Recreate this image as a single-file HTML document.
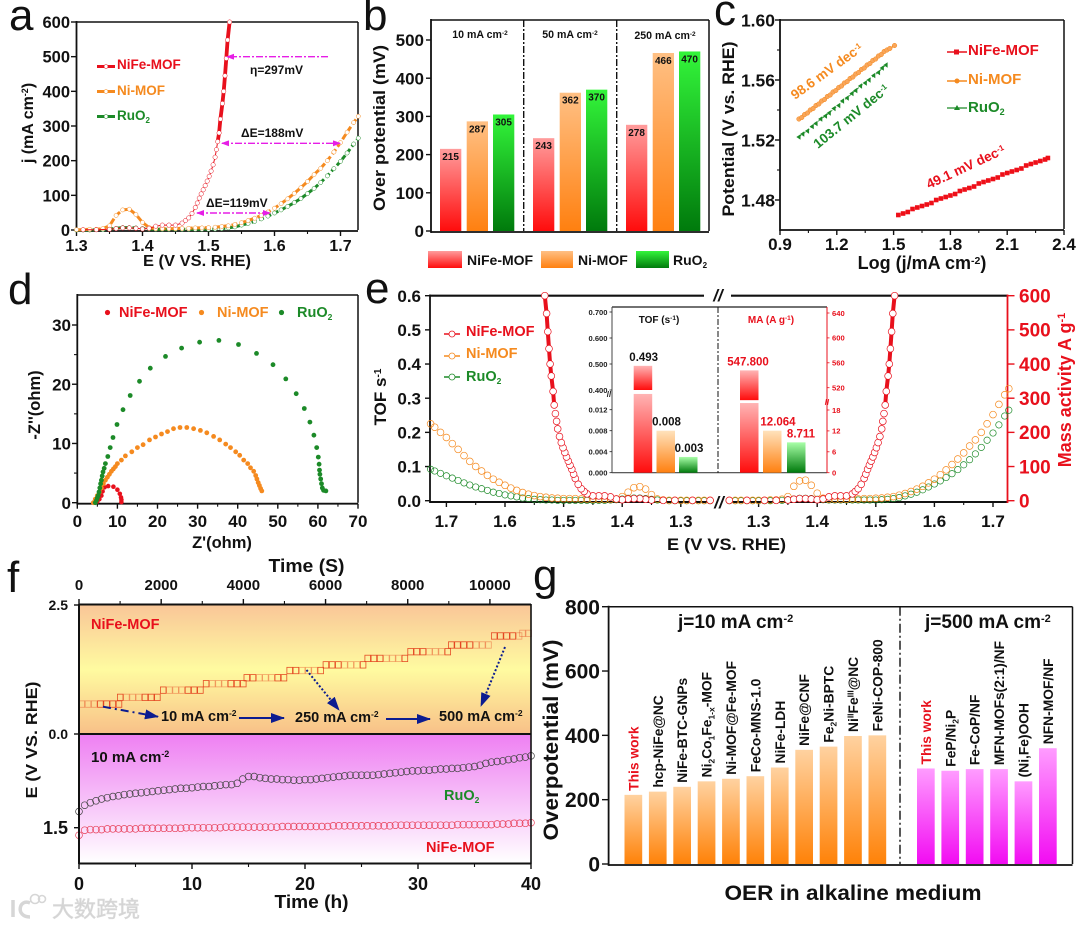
<!DOCTYPE html>
<html lang="en">
<head>
<meta charset="utf-8">
<title>OER electrocatalyst performance of NiFe-MOF</title>
<style>
html,body{margin:0;padding:0;background:#fff;}
svg{display:block;filter:blur(0.35px);}
text{font-family:"Liberation Sans","Noto Sans CJK SC",sans-serif;font-weight:bold;fill:#111;}
.pl{font-weight:normal;font-size:44px;fill:#111;}
.r{fill:#e8101c;}.o{fill:#f58a1f;}.g{fill:#1c8a28;}
</style>
</head>
<body>
<svg id="chart" xmlns="http://www.w3.org/2000/svg" width="1080" height="928" viewBox="0 0 1080 928">
<defs>
<linearGradient id="gRed" x1="0" y1="0" x2="0" y2="1"><stop offset="0" stop-color="#ff9c9c"/><stop offset="1" stop-color="#ff0c0c"/></linearGradient>
<linearGradient id="gOrange" x1="0" y1="0" x2="0" y2="1"><stop offset="0" stop-color="#ffc084"/><stop offset="1" stop-color="#ff8010"/></linearGradient>
<linearGradient id="gGreen" x1="0" y1="0" x2="0" y2="1"><stop offset="0" stop-color="#33f53a"/><stop offset="1" stop-color="#007a0c"/></linearGradient>
<linearGradient id="gInRed" x1="0" y1="0" x2="0" y2="1"><stop offset="0" stop-color="#ffb4b4"/><stop offset="1" stop-color="#ff0c0c"/></linearGradient>
<linearGradient id="gInOrange" x1="0" y1="0" x2="0" y2="1"><stop offset="0" stop-color="#ffe2bc"/><stop offset="1" stop-color="#ff8010"/></linearGradient>
<linearGradient id="gInGreen" x1="0" y1="0" x2="0" y2="1"><stop offset="0" stop-color="#a8ffa8"/><stop offset="1" stop-color="#007a0c"/></linearGradient>
<linearGradient id="gPeach" x1="0" y1="0" x2="0" y2="1"><stop offset="0" stop-color="#ffd2a0"/><stop offset="1" stop-color="#ff8208"/></linearGradient>
<linearGradient id="gPink" x1="0" y1="0" x2="0" y2="1"><stop offset="0" stop-color="#ff9cff"/><stop offset="1" stop-color="#f20cf2"/></linearGradient>
<linearGradient id="gFTop" x1="0" y1="0" x2="0" y2="1"><stop offset="0" stop-color="#f9c698"/><stop offset="0.5" stop-color="#fffba0"/><stop offset="1" stop-color="#f8c088"/></linearGradient>
<linearGradient id="gFBot" x1="0" y1="0" x2="0" y2="1"><stop offset="0" stop-color="#ee7ff2"/><stop offset="1" stop-color="#ffffff"/></linearGradient>
<marker id="mArrowEnd" markerWidth="8" markerHeight="6" refX="7" refY="3" orient="auto" markerUnits="userSpaceOnUse"><path d="M0,0L8,3L0,6Z" fill="#e61ee6"/></marker>
<marker id="mArrowStart" markerWidth="8" markerHeight="6" refX="1" refY="3" orient="auto" markerUnits="userSpaceOnUse"><path d="M8,0L0,3L8,6Z" fill="#e61ee6"/></marker>
<marker id="mNavy" markerWidth="14" markerHeight="10" refX="13" refY="5" orient="auto" markerUnits="userSpaceOnUse"><path d="M0,0L14,5L0,10Z" fill="#0c1c90"/></marker>
</defs>
<rect width="1080" height="928" fill="#fff"/>

<g id="pa"></g>
<g id="pb"></g>
<g id="pc"></g>
<g id="pd"></g>
<g id="pe"></g>
<g id="pf"></g>
<g id="pg"></g>

<g>
<text class="pl" x="9" y="30">a</text>
<text class="pl" x="363" y="30">b</text>
<text class="pl" x="714" y="25">c</text>
<text class="pl" x="8" y="304">d</text>
<text class="pl" x="365" y="303">e</text>
<text class="pl" x="7" y="592">f</text>
<text class="pl" x="533" y="590">g</text>
</g>

<!-- panel a static text -->
<g>
<text x="197" y="266" text-anchor="middle" font-size="15.5" textLength="108" lengthAdjust="spacingAndGlyphs">E (V VS. RHE)</text>
<text transform="translate(33,123) rotate(-90)" text-anchor="middle" font-size="16">j (mA cm<tspan dy="-5" font-size="9">-2</tspan><tspan dy="5">)</tspan></text>
<text class="r" x="117" y="69" font-size="13.5">NiFe-MOF</text>
<text class="o" x="117" y="95" font-size="13.5">Ni-MOF</text>
<text class="g" x="117" y="120" font-size="13.5">RuO<tspan dy="3" font-size="8">2</tspan></text>
<text x="250" y="74" font-size="12">η=297mV</text>
<text x="241" y="137" font-size="12">ΔE=188mV</text>
<text x="206" y="207" font-size="12">ΔE=119mV</text>
</g>

<!-- panel b static text -->
<g>
<text transform="translate(385,128) rotate(-90)" text-anchor="middle" font-size="17" textLength="166" lengthAdjust="spacingAndGlyphs">Over potential (mV)</text>
<text x="480" y="38" text-anchor="middle" font-size="10.6">10 mA cm<tspan dy="-3" font-size="6.5">-2</tspan></text>
<text x="570" y="38" text-anchor="middle" font-size="10.6">50 mA cm<tspan dy="-3" font-size="6.5">-2</tspan></text>
<text x="665" y="39" text-anchor="middle" font-size="10.6">250 mA cm<tspan dy="-3" font-size="6.5">-2</tspan></text>
<rect x="428" y="251" width="34" height="17" fill="url(#gRed)"/>
<rect x="541" y="251" width="32" height="17" fill="url(#gOrange)"/>
<rect x="636" y="251" width="33" height="17" fill="url(#gGreen)"/>
<text x="467" y="265" font-size="14" fill="#222">NiFe-MOF</text>
<text x="578" y="265" font-size="14">Ni-MOF</text>
<text x="673" y="265" font-size="14">RuO<tspan dy="3" font-size="8">2</tspan></text>
</g>

<!-- panel c static text -->
<g>
<text transform="translate(734,129) rotate(-90)" text-anchor="middle" font-size="17" textLength="175" lengthAdjust="spacingAndGlyphs">Potential (V vs. RHE)</text>
<text x="922" y="269" text-anchor="middle" font-size="18">Log (j/mA cm<tspan dy="-5" font-size="10.5">-2</tspan><tspan dy="5">)</tspan></text>
<text class="r" x="968" y="55" font-size="15">NiFe-MOF</text>
<text class="o" x="968" y="84" font-size="15">Ni-MOF</text>
<text class="g" x="968" y="112" font-size="15">RuO<tspan dy="3" font-size="9">2</tspan></text>
<text class="o" transform="translate(795,100) rotate(-36)" font-size="13.5">98.6 mV dec<tspan dy="-4" font-size="8">-1</tspan></text>
<text class="g" transform="translate(818,149) rotate(-39)" font-size="13.5">103.7 mV dec<tspan dy="-4" font-size="8">-1</tspan></text>
<text class="r" transform="translate(929,189) rotate(-25)" font-size="13.5">49.1 mV dec<tspan dy="-4" font-size="8">-1</tspan></text>
</g>

<!-- panel d static text -->
<g>
<text x="222" y="548" text-anchor="middle" font-size="16.5">Z'(ohm)</text>
<text transform="translate(40,405) rotate(-90)" text-anchor="middle" font-size="16.5">-Z''(ohm)</text>
<text class="r" x="119" y="317" font-size="14.5">NiFe-MOF</text>
<text class="o" x="217" y="317" font-size="14.5">Ni-MOF</text>
<text class="g" x="297" y="317" font-size="14.5">RuO<tspan dy="3" font-size="8.5">2</tspan></text>
<circle cx="107.5" cy="312.5" r="2.6" fill="#e8101c"/>
<circle cx="201.5" cy="312.5" r="2.6" fill="#f58a1f"/>
<circle cx="281.5" cy="312.5" r="2.6" fill="#1c8a28"/>
</g>

<!-- panel f static text -->
<g>
<text x="306.5" y="572" text-anchor="middle" font-size="18" textLength="76" lengthAdjust="spacingAndGlyphs">Time (S)</text>
<text x="311.5" y="908" text-anchor="middle" font-size="18" textLength="74" lengthAdjust="spacingAndGlyphs">Time (h)</text>
<text transform="translate(37,740) rotate(-90)" text-anchor="middle" font-size="15.5" textLength="117" lengthAdjust="spacingAndGlyphs">E (V VS. RHE)</text>
</g>

<!-- panel g static text -->
<g>
<text transform="translate(558,740) rotate(-90)" text-anchor="middle" font-size="21" textLength="201" lengthAdjust="spacingAndGlyphs">Overpotential (mV)</text>
<text x="678" y="628" font-size="19">j=10 mA cm<tspan dy="-6" font-size="11">-2</tspan></text>
<text x="925" y="628" font-size="19">j=500 mA cm<tspan dy="-6" font-size="11">-2</tspan></text>
<text x="853" y="900" text-anchor="middle" font-size="21" textLength="257" lengthAdjust="spacingAndGlyphs">OER in alkaline medium</text>
</g>

<!-- watermark -->
<g opacity="0.95">
<path d="M13,900 L13,917 M30,903 C19,898 15,917 30,917" fill="none" stroke="#d4d4d4" stroke-width="3.5"/>
<circle cx="35" cy="899" r="4.5" fill="none" stroke="#d4d4d4" stroke-width="1.6"/>
<circle cx="42" cy="899" r="3.5" fill="none" stroke="#d4d4d4" stroke-width="1.6"/>
<text x="52" y="917" font-size="22" style="fill:#d2d2d2;font-weight:normal;stroke:#d8d8d8;stroke-width:.6">大数跨境</text>
</g>

<!-- panel e static text (above the plotted curves) -->
<g id="peLabels">
<text transform="translate(386,397) rotate(-90)" text-anchor="middle" font-size="17">TOF s<tspan dy="-5" font-size="10">-1</tspan></text>
<text class="r" transform="translate(1071,390) rotate(-90)" text-anchor="middle" font-size="18">Mass activity A g<tspan dy="-6" font-size="11">-1</tspan></text>
<text x="726.5" y="550" text-anchor="middle" font-size="17" textLength="119" lengthAdjust="spacingAndGlyphs">E (V VS. RHE)</text>
<text class="r" x="466" y="336" font-size="14.5">NiFe-MOF</text>
<text class="o" x="466" y="358" font-size="14.5">Ni-MOF</text>
<text class="g" x="466" y="381" font-size="14.5">RuO<tspan dy="3" font-size="8.5">2</tspan></text>
<text x="718" y="301" text-anchor="middle" font-size="17" font-style="italic">//</text>
<text x="719" y="508" text-anchor="middle" font-size="17" font-style="italic">//</text>
<text x="659" y="323" text-anchor="middle" font-size="10">TOF (s<tspan dy="-3" font-size="6.5">-1</tspan><tspan dy="3">)</tspan></text>
<text class="r" x="771" y="323" text-anchor="middle" font-size="10">MA (A g<tspan dy="-3" font-size="6.5">-1</tspan><tspan dy="3">)</tspan></text>
</g>
</svg>

<script>
// ---------- panel a data (shared LSV curves, also used by panel e right side) ----------
const lsvNiFeE=[1.25,1.28,1.31,1.33,1.35,1.36,1.37,1.38,1.39,1.40,1.41,1.42,1.43,1.44,1.45,1.46,1.465,1.47,1.475,1.48,1.483,1.486,1.489,1.492,1.495,1.498,1.501,1.504,1.507,1.51,1.512,1.514,1.516,1.518,1.521,1.523,1.525,1.527,1.529,1.532];
const lsvNiFeJ=[1,1,1,1,2,4,6,6,5,3,5,11,14,14,14,20,27,35,48,65,78,92,104,116,128,141,155,170,188,210,232,255,280,320,365,400,445,495,548,600];
const lsvE=[1.25,1.26,1.27,1.28,1.29,1.30,1.31,1.32,1.33,1.34,1.35,1.36,1.37,1.38,1.39,1.40,1.41,1.42,1.43,1.44,1.45,1.46,1.47,1.48,1.49,1.50,1.51,1.52,1.53,1.54,1.55,1.56,1.57,1.58,1.59,1.60,1.61,1.62,1.63,1.64,1.65,1.66,1.67,1.68,1.69,1.70,1.71,1.72,1.727];
const lsvNiJ=[1,1,1,1,1,1,1,2,2,4,12,42,58,60,45,22,7,4,4,4,4,5,5,6,6,7,8,10,12,16,21,27,34,42,52,63,76,90,106,122,140,160,178,200,225,252,282,310,328];
const lsvRuJ=[0,0,0,0,0,0,0,0,1,1,3,5,7,7,6,4,3,2,2,2,2,2,2,2,2,2,3,4,6,9,14,19,25,32,40,49,58,68,79,91,105,120,137,156,177,198,222,248,265];
const aXTicks=[1.3,1.4,1.5,1.6,1.7];
const aXMinor=[1.35,1.45,1.55,1.65];
const aYTicks=[0,100,200,300,400,500,600];

// ---------- panel b data ----------
const bGroups=["10 mA cm-2","50 mA cm-2","250 mA cm-2"];
const bNiFe=[215,243,278];
const bNi=[287,362,466];
const bRu=[305,370,470];
const bYTicks=[0,100,200,300,400,500];

// ---------- panel c data ----------
const cNiFeX=[1.525,1.55,1.575,1.60,1.625,1.65,1.675,1.70,1.725,1.75,1.775,1.80,1.825,1.85,1.875,1.90,1.925,1.95,1.975,2.00,2.025,2.05,2.075,2.10,2.125,2.15,2.175,2.20,2.225,2.25,2.275,2.30,2.315];
const cNiFeY=[1.470,1.471,1.472,1.474,1.475,1.476,1.477,1.478,1.480,1.481,1.482,1.483,1.484,1.486,1.487,1.488,1.489,1.491,1.492,1.493,1.494,1.495,1.497,1.498,1.499,1.500,1.501,1.503,1.504,1.505,1.506,1.507,1.508];
const cNiX=[1.00,1.015,1.03,1.045,1.06,1.075,1.09,1.105,1.12,1.135,1.15,1.165,1.18,1.195,1.21,1.225,1.24,1.255,1.27,1.285,1.30,1.315,1.33,1.345,1.36,1.375,1.39,1.405,1.42,1.435,1.45,1.465,1.48,1.505];
const cNiY=[1.534,1.535,1.537,1.538,1.540,1.541,1.543,1.544,1.546,1.547,1.549,1.550,1.552,1.553,1.555,1.556,1.558,1.559,1.561,1.562,1.564,1.565,1.567,1.568,1.570,1.571,1.573,1.574,1.576,1.577,1.579,1.580,1.581,1.583];
const cRuX=[1.00,1.02,1.045,1.07,1.09,1.115,1.14,1.16,1.185,1.21,1.23,1.255,1.28,1.30,1.325,1.35,1.37,1.395,1.42,1.44,1.46];
const cRuY=[1.522,1.524,1.526,1.529,1.531,1.534,1.536,1.538,1.541,1.543,1.546,1.548,1.551,1.553,1.556,1.558,1.560,1.563,1.565,1.568,1.570];
const cXTicks=[0.9,1.2,1.5,1.8,2.1,2.4];
const cXMinor=[1.05,1.35,1.65,1.95,2.25];
const cYTicks=[1.48,1.52,1.56,1.60];
const cYMinor=[1.50,1.54,1.58];

// ---------- panel d data ----------
const dRuX=[4.5,4.8,5,5.2,5.4,5.6,5.8,6,6.2,6.4,6.7,7,7.6,8.2,8.9,9.9,11.4,13.2,15.5,18.2,22,26,30.5,35.3,40.2,44.7,48.8,52,54.6,56.6,58,59,59.7,60.1,60.3,60.4,60.5,60.7,60.9,61.1,61.4,62];
const dRuY=[0,0.4,0.8,1.2,1.8,2.5,3.2,3.8,4.5,5.2,5.8,6.6,7.8,9.3,11,13.2,15.7,18.1,20.5,22.7,24.7,26.1,27.1,27.4,26.7,25.2,23.3,20.9,18.4,15.9,13.6,11.4,9.3,7.7,6.5,5.5,4.8,4,3.2,2.5,2.1,2];
const dNiX=[4,4.5,5,5.5,6,6.5,7,7.5,8,8.5,9,9.5,10,11,12,13.6,15,16.4,18,19.5,21,22.5,24,25.6,27.3,29,30.7,32.3,34,35.5,37,38.2,39.5,40.5,41.5,42.5,43.2,44,44.5,44.8,45.1,45.4,45.7,46];
const dNiY=[0,0.6,1.2,1.8,2.5,3.2,3.8,4.3,4.8,5.3,5.7,6.1,6.6,7.2,7.9,8.6,9.3,9.8,10.6,11.1,11.6,12,12.5,12.7,12.7,12.5,12.2,11.8,11.2,10.6,9.9,9.3,8.6,8,7.2,6.6,5.9,5.3,4.6,4,3.4,2.9,2.4,2];
const dNiFeX=[5,5.5,6,6.3,6.8,7.7,9,10,10.6,10.9,11,11];
const dNiFeY=[0.2,0.6,1.2,1.9,2.6,2.8,2.7,2.2,1.5,0.9,0.5,0.1];
const dXTicks=[0,10,20,30,40,50,60,70];
const dYTicks=[0,10,20,30];

// ---------- panel e data ----------
const tofNiJ=[0.001,0.001,0.001,0.001,0.001,0.001,0.001,0.001,0.002,0.005,0.018,0.034,0.041,0.038,0.025,0.012,0.005,0.004,0.004,0.004,0.004,0.005,0.005,0.006,0.006,0.006,0.007,0.008,0.010,0.012,0.015,0.019,0.024,0.030,0.037,0.045,0.054,0.063,0.074,0.087,0.100,0.115,0.132,0.150,0.167,0.185,0.200,0.215,0.225];
const tofRuJ=[0,0,0,0,0,0,0,0,0.001,0.002,0.004,0.006,0.008,0.008,0.007,0.005,0.003,0.002,0.001,0.001,0.001,0.001,0.001,0.001,0.001,0.001,0.001,0.002,0.002,0.003,0.004,0.006,0.008,0.011,0.014,0.017,0.021,0.025,0.030,0.035,0.040,0.046,0.052,0.059,0.066,0.073,0.080,0.087,0.092];
const tofNiFeJ=[0.001,0.001,0.001,0.001,0.002,0.004,0.006,0.006,0.005,0.003,0.005,0.011,0.014,0.014,0.014,0.020,0.027,0.035,0.048,0.065,0.078,0.092,0.104,0.116,0.128,0.141,0.155,0.170,0.188,0.210,0.232,0.255,0.280,0.320,0.365,0.400,0.445,0.495,0.548,0.600];
const eXTicks=[1.3,1.4,1.5,1.6,1.7];
const eXMinor=[1.35,1.45,1.55,1.65];
const eLeftYTicks=[0,0.1,0.2,0.3,0.4,0.5,0.6];
const eRightYTicks=[0,100,200,300,400,500,600];
const insetTof=[0.493,0.008,0.003];
const insetMa=[547.8,12.064,8.711];
const insetTofLabels=["0.493","0.008","0.003"];
const insetMaLabels=["547.800","12.064","8.711"];
const insetTofLowTicks=[0,0.004,0.008,0.012];
const insetTofHighTicks=[0.4,0.5,0.6,0.7];
const insetMaLowTicks=[0,6,12,18];
const insetMaHighTicks=[520,560,600,640];

// ---------- panel f data ----------
const fStepStarts=[0,3.4,7.2,11,14.6,18.4,21.6,25.3,29.1,32.7,36.5,39];
const fStepLevels=[0.58,0.71,0.85,0.975,1.09,1.23,1.34,1.465,1.595,1.725,1.9,1.95];
const fTimes=[0,0.5,1,1.5,2,2.5,3,3.5,4,4.5,
5,5.5,6,6.5,7,7.5,8,8.5,9,9.5,
10,10.5,11,11.5,12,12.5,13,13.5,14,14.5,
15,15.5,16,16.5,17,17.5,18,18.5,19,19.5,
20,20.5,21,21.5,22,22.5,23,23.5,24,24.5,
25,25.5,26,26.5,27,27.5,28,28.5,29,29.5,
30,30.5,31,31.5,32,32.5,33,33.5,34,34.5,
35,35.5,36,36.5,37,37.5,38,38.5,39,39.5,
40];
const fRu=[1.24,1.14,1.10,1.07,1.04,1.02,1.00,.99,.97,.96,
.95,.94,.93,.92,.91,.90,.89,.88,.87,.87,
.86,.85,.84,.84,.83,.82,.81,.81,.79,.72,
.68,.68,.70,.71,.72,.72,.73,.73,.74,.74,
.73,.73,.72,.71,.70,.69,.68,.67,.66,.66,
.66,.66,.66,.65,.64,.63,.62,.61,.60,.59,
.59,.58,.58,.57,.56,.56,.55,.55,.54,.53,
.52,.50,.47,.45,.44,.43,.41,.40,.38,.37,
.35];
const fNiFe=[1.62,1.54,1.53,1.53,1.53,1.52,1.52,1.52,1.52,1.52,
1.52,1.51,1.51,1.51,1.51,1.51,1.51,1.51,1.51,1.50,
1.50,1.50,1.50,1.50,1.50,1.50,1.49,1.49,1.49,1.49,
1.49,1.49,1.49,1.49,1.49,1.49,1.48,1.48,1.48,1.48,
1.48,1.48,1.48,1.48,1.48,1.47,1.47,1.47,1.47,1.47,
1.47,1.47,1.47,1.47,1.47,1.47,1.46,1.46,1.46,1.46,
1.46,1.46,1.46,1.46,1.46,1.46,1.46,1.45,1.45,1.45,
1.45,1.45,1.45,1.45,1.44,1.44,1.44,1.43,1.43,1.43,
1.42];
const fTopTicks=[0,2000,4000,6000,8000,10000];
const fTopMinor=[1000,3000,5000,7000,9000];
const fBottomTicks=[0,10,20,30,40];
const fBottomMinor=[5,15,25,35];

// ---------- panel g data ----------
const gLabelsA=["This work","hcp-NiFe@NC","NiFe-BTC-GNPs","Ni_{2}Co_{1}Fe_{1-x}-MOF","Ni-MOF@Fe-MOF","FeCo-MNS-1.0","NiFe-LDH","NiFe@CNF","Fe_{2}Ni-BPTC","Ni^{II}Fe^{III}@NC","FeNi-COP-800"];
const gValuesA=[215,225,240,257,265,273,300,355,365,398,400];
const gLabelsB=["This work","FeP/Ni_{2}P","Fe-CoP/NF","MFN-MOFs(2:1)/NF","(Ni,Fe)OOH","NFN-MOF/NF"];
const gValuesB=[297,290,295,295,257,360];
const gYTicks=[0,200,400,600,800];

// ---------- helpers ----------
const NS='http://www.w3.org/2000/svg';
const RED='#e8101c',ORG='#f58a1f',GRN='#1c8a28';
function $(id){return document.getElementById(id);}
function linear(d0,d1,r0,r1){return v=>r0+(v-d0)/(d1-d0)*(r1-r0);}
function add(parent,tag,attrs,name,txt){
  const el=document.createElementNS(NS,tag);
  for(const k in attrs)el.setAttribute(k,attrs[k]);
  
  
  if(txt!==undefined)el.textContent=txt;
  parent.appendChild(el);
  return el;
}
function seg(g,x1,y1,x2,y2,color,w,name){
  return add(g,'line',{x1:x1,y1:y1,x2:x2,y2:y2,stroke:color,'stroke-width':w},name);
}
function frame(g,l,t,r,b,name){
  seg(g,l,t,r,t,'#111',1.5,name+'-top-border');
  seg(g,r,t,r,b,'#111',1.5,name+'-right-border');
  seg(g,l,b+1,r,b+1,'#111',1.8,name+'-bottom-axis');
  seg(g,l,t-1,l,b+1.9,'#111',1.8,name+'-left-axis');
}
function xTicks(g,scale,ticks,minor,y,dir,labelY,fmt,fs,name,len){
  const L=len||5;
  ticks.forEach(t=>{
    seg(g,scale(t),y,scale(t),y+dir*L,'#111',1.4,name+'-tick');
    if(fmt)add(g,'text',{x:scale(t),y:labelY,'text-anchor':'middle','font-size':fs},name+'-tick-label',fmt(t));
  });
  (minor||[]).forEach(t=>seg(g,scale(t),y,scale(t),y+dir*L*0.6,'#111',1.1,name+'-minor-tick'));
}
function yTicks(g,scale,ticks,minor,x,dir,labelX,fmt,fs,name,color,len){
  const L=len||5,c=color||'#111';
  ticks.forEach(t=>{
    seg(g,x,scale(t),x+dir*L,scale(t),c,1.4,name+'-tick');
    const el=add(g,'text',{x:labelX,y:scale(t)+fs*0.36,'text-anchor':dir<0?'end':'start','font-size':fs},name+'-tick-label',fmt(t));
    if(color)el.style.fill=color;
  });
  (minor||[]).forEach(t=>seg(g,x,scale(t),x+dir*L*0.6,scale(t),c,1.1,name+'-minor-tick'));
}
function poly(g,xs,ys,fx,fy,color,w,dash,name){
  const pts=xs.map((x,i)=>fx(x).toFixed(1)+','+fy(ys[i]).toFixed(1)).join(' ');
  const a={points:pts,fill:'none',stroke:color,'stroke-width':w};
  if(dash)a['stroke-dasharray']=dash;
  return add(g,'polyline',a,name);
}
function rings(g,xs,ys,fx,fy,color,r,sw,fill,name){
  xs.forEach((x,i)=>add(g,'circle',{cx:fx(x).toFixed(1),cy:fy(ys[i]).toFixed(1),r:r,fill:fill,stroke:color,'stroke-width':sw},name));
}
function f1(v){return v.toFixed(1);}
function f0(v){return String(v);}
function f2(v){return v.toFixed(2);}
function f3(v){return v.toFixed(3);}

// ---------- panel a ----------
(function(){
  const g=$('pa');
  const x=linear(1.3,1.7,76.5,340.5),y=linear(0,600,230,22);
  const pick=(xs,ys)=>{const a=[],b=[];xs.forEach((v,i)=>{if(v>=1.3){a.push(v);b.push(ys[i]);}});return [a,b];};
  frame(g,76.5,22,358,230,'panel-a');
  xTicks(g,x,aXTicks,aXMinor,231,1,251,f1,16,'panel-a-x');
  yTicks(g,y,aYTicks,[],76,-1,70,f0,16.5,'panel-a-y');
  const [ruE,ruJ]=pick(lsvE,lsvRuJ),[niE,niJ]=pick(lsvE,lsvNiJ),[nfE,nfJ]=pick(lsvNiFeE,lsvNiFeJ);
  poly(g,ruE,ruJ,x,y,GRN,3,'5 3','lsv-line-ruo2');
  rings(g,ruE,ruJ,x,y,GRN,2.1,0.5,'#fff','lsv-point-ruo2');
  poly(g,niE,niJ,x,y,ORG,3,'6 3','lsv-line-ni');
  rings(g,niE,niJ,x,y,ORG,2.1,0.5,'#fff','lsv-point-ni');
  poly(g,nfE,nfJ,x,y,RED,1,null,'lsv-line-nife');
  const hiE=[],hiJ=[];nfE.forEach((v,i)=>{if(nfJ[i]>=255){hiE.push(v);hiJ.push(nfJ[i]);}});
  poly(g,hiE,hiJ,x,y,RED,3.8,null,'lsv-line-nife-thick');
  rings(g,nfE,nfJ,x,y,RED,2.2,0.5,'#fff','lsv-point-nife');
  // legend samples
  [[66.5,RED,'a-legend-line-nife'],[91.5,ORG,'a-legend-line-ni'],[116.5,GRN,'a-legend-line-ruo2']].forEach(a=>{
    seg(g,97,a[0],115,a[0],a[1],3,a[2]);
    add(g,'circle',{cx:106,cy:a[0],r:2,fill:'#fff',stroke:a[1],'stroke-width':0.5},a[2]+'-marker');
  });
  // annotations
  const anno=(x1,yy,x2,both,nm)=>{
    const a={x1:x1,y1:yy,x2:x2,y2:yy,stroke:'#e61ee6','stroke-width':1.4,'stroke-dasharray':'7 2 2 2','marker-end':'url(#mArrowEnd)'};
    if(both)a['marker-start']='url(#mArrowStart)';
    add(g,'line',a,nm);
  };
  anno(328,56.7,227,false,'eta-arrow');
  anno(222,143.3,340,true,'delta-e-188-arrow');
  anno(197,213,270,true,'delta-e-119-arrow');
})();

// ---------- panel b ----------
(function(){
  const g=$('pb');
  const y=linear(0,500,231,40);
  const groupX=[440,533,626];
  const offs=[0,26.7,53];
  const series=[[bNiFe,'gRed','nife'],[bNi,'gOrange','ni'],[bRu,'gGreen','ruo2']];
  bGroups.forEach((grp,i)=>{
    series.forEach((s,k)=>{
      const v=s[0][i],xx=groupX[i]+offs[k];
      add(g,'rect',{x:xx,y:y(v),width:21.3,height:231-y(v),fill:'url(#'+s[1]+')'},'bar-'+s[2]);
      add(g,'text',{x:xx+10.6,y:y(v)+11,'text-anchor':'middle','font-size':10},'bar-value-'+s[2],String(v));
    });
  });
  frame(g,431,20,709,231,'panel-b');
  [523.7,616.7].forEach(xx=>add(g,'line',{x1:xx,y1:20,x2:xx,y2:231,stroke:'#111','stroke-width':1.4,'stroke-dasharray':'7 2 2 2'},'group-divider'));
  yTicks(g,y,bYTicks,[],431,-1,424,f0,17,'panel-b-y',null,5);
})();

// ---------- panel c ----------
(function(){
  const g=$('pc');
  const x=linear(0.9,2.4,780,1064),y=linear(1.46,1.60,230,20);
  frame(g,780,20,1064,229,'panel-c');
  xTicks(g,x,cXTicks,cXMinor,230,1,250,f1,17,'panel-c-x');
  yTicks(g,y,cYTicks,cYMinor,780,-1,775,f2,17.5,'panel-c-y');
  cNiFeX.forEach((v,i)=>add(g,'rect',{x:x(v)-2.3,y:y(cNiFeY[i])-2.3,width:4.6,height:4.6,fill:'#ee0f18'},'tafel-point-nife'));
  poly(g,cNiX,cNiY,x,y,ORG,1.5,null,'tafel-line-ni');
  cNiX.forEach((v,i)=>add(g,'circle',{cx:x(v),cy:y(cNiY[i]),r:2.3,fill:'#f9a65a',stroke:ORG,'stroke-width':0.5},'tafel-point-ni'));
  poly(g,cRuX,cRuY,x,y,GRN,0.8,'3 2','tafel-line-ruo2');
  cRuX.forEach((v,i)=>{
    const px=x(v),py=y(cRuY[i]);
    add(g,'path',{d:'M'+(px-2.6)+','+(py)+'L'+(px+1.6)+','+(py-2.8)+'L'+(px+1.6)+','+(py+2.8)+'Z',fill:GRN},'tafel-point-ruo2');
  });
  seg(g,947,52,967,52,RED,1.5,'c-legend-line-nife');
  add(g,'rect',{x:954,y:49.5,width:5,height:5,fill:RED},'c-legend-marker-nife');
  seg(g,947,81,967,81,ORG,1.5,'c-legend-line-ni');
  add(g,'circle',{cx:957,cy:81,r:2.5,fill:ORG},'c-legend-marker-ni');
  seg(g,947,108,967,108,GRN,1.2,'c-legend-line-ruo2');
  add(g,'path',{d:'M957,105L960,110L954,110Z',fill:GRN},'c-legend-marker-ruo2');
})();

// ---------- panel d ----------
(function(){
  const g=$('pd');
  const x=linear(0,70,77.3,358),y=linear(0,30,502.7,325);
  frame(g,77.3,295,358,502.7,'panel-d');
  const rest=[5,15,25,35,45,55,65];
  xTicks(g,x,dXTicks,rest,503.7,1,527,f0,17,'panel-d-x');
  yTicks(g,y,dYTicks,[5,15,25],77,-1,71,f0,17,'panel-d-y');
  const dots=(xs,ys,c,r,nm)=>xs.forEach((v,i)=>add(g,'circle',{cx:x(v).toFixed(1),cy:y(ys[i]).toFixed(1),r:r,fill:c},nm));
  dots(dNiFeX,dNiFeY,RED,2.3,'nyquist-point-nife');
  dots(dNiX,dNiY,ORG,2.4,'nyquist-point-ni');
  dots(dRuX,dRuY,GRN,2.4,'nyquist-point-ruo2');
})();

// ---------- panel e ----------
(function(){
  const g=$('pe');
  const y=linear(0,0.6,500.7,295.7);
  const yR=linear(0,600,500.7,295.7);
  const xL=v=>446.4+(1.7-v)*586;
  const xR=v=>758.6+(v-1.3)*586;
  // frame
  seg(g,430,295.7,704,295.7,'#111',2.2,'top-axis-left');
  seg(g,731,295.7,1007.5,295.7,'#111',2.2,'top-axis-right');
  seg(g,430,502,710,502,'#111',2,'bottom-axis-left');
  seg(g,729,502,1007.5,502,'#111',2,'bottom-axis-right');
  seg(g,430,294.5,430,503,'#111',1.8,'left-axis');
  seg(g,1007.5,294.5,1007.5,503,RED,1.8,'right-axis');
  xTicks(g,xL,eXTicks,eXMinor,502,1,527,f1,17,'panel-e-left-x');
  xTicks(g,xR,eXTicks,eXMinor,502,1,527,f1,17,'panel-e-right-x');
  yTicks(g,y,eLeftYTicks,[],430,-1,421,f1,17,'panel-e-left-y');
  yTicks(g,yR,eRightYTicks,[],1007.5,1,1019,f0,19,'panel-e-right-y',RED,7);
  // left curves
  const thick=(xs,ys,fx,fy,thr,nm)=>{
    const a=[],b=[];xs.forEach((v,i)=>{if(ys[i]>=thr){a.push(v);b.push(ys[i]);}});
    poly(g,a,b,fx,fy,RED,4,null,nm);
  };
  rings(g,lsvE,tofRuJ,xL,y,GRN,3.2,0.7,'none','tof-point-ruo2');
  rings(g,lsvE,tofNiJ,xL,y,ORG,3.4,0.7,'none','tof-point-ni');
  thick(lsvNiFeE,tofNiFeJ,xL,y,0.28,'tof-line-nife');
  rings(g,lsvNiFeE,tofNiFeJ,xL,y,RED,3.4,0.7,'#fff','tof-point-nife');
  // right curves
  rings(g,lsvE,lsvRuJ,xR,yR,GRN,3.2,0.7,'none','ma-point-ruo2');
  rings(g,lsvE,lsvNiJ,xR,yR,ORG,3.4,0.7,'none','ma-point-ni');
  thick(lsvNiFeE,lsvNiFeJ,xR,yR,280,'ma-line-nife');
  rings(g,lsvNiFeE,lsvNiFeJ,xR,yR,RED,3.4,0.7,'#fff','ma-point-nife');
  // legend
  [[334,RED,'nife'],[356,ORG,'ni'],[377,GRN,'ruo2']].forEach(a=>{
    seg(g,444,a[0],460,a[0],a[1],1.5,'e-legend-line-'+a[2]);
    add(g,'circle',{cx:452,cy:a[0],r:3,fill:'#fff',stroke:a[1],'stroke-width':0.8},'e-legend-marker-'+a[2]);
  });
  // inset
  const inL=612,inR=827,inT=307,inB=472.7;
  add(g,'rect',{x:inL,y:inT,width:inR-inL,height:inB-inT,fill:'#fff'},'inset-background');
  seg(g,inL,inT,inR,inT,'#444',1.6,'inset-top-border');
  seg(g,inL,inB,inR,inB,'#444',1.2,'inset-bottom-axis');
  seg(g,inL,inT,inL,inB,'#444',1,'inset-left-axis');
  seg(g,inR,inT,inR,inB,RED,1,'inset-right-axis');
  add(g,'line',{x1:718,y1:inT,x2:718,y2:inB,stroke:'#111','stroke-width':1,'stroke-dasharray':'6 2 2 2'},'inset-divider');
  const tofLow=linear(0,0.012,472.7,409.7),tofHigh=linear(0.4,0.7,390,312);
  const maLow=linear(0,18,472.7,410),maHigh=linear(520,640,387.7,313);
  const inTick=(ticks,sc,x0,dir,lx,fmt,c,nm)=>ticks.forEach(t=>{
    seg(g,x0,sc(t),x0+dir*2.5,sc(t),c,0.8,nm+'-tick');
    const el=add(g,'text',{x:lx,y:sc(t)+2.8,'text-anchor':dir<0?'end':'start','font-size':7.6},nm+'-tick-label',fmt(t));
    el.style.fill=c;
  });
  inTick(insetTofLowTicks,tofLow,inL,-1,607.5,f3,'#222','inset-left-low');
  inTick(insetTofHighTicks,tofHigh,inL,-1,607.5,f3,'#222','inset-left-high');
  inTick(insetMaLowTicks,maLow,inR,1,832,f0,RED,'inset-right-low');
  inTick(insetMaHighTicks,maHigh,inR,1,832,f0,RED,'inset-right-high');
  add(g,'text',{x:inL-3,y:397,'text-anchor':'middle','font-size':8},'inset-left-break','//');
  const redBreak=add(g,'text',{x:inR,y:405,'text-anchor':'middle','font-size':8},'inset-right-break','//');
  redBreak.style.fill=RED;
  const tofX=[633.7,656.5,679],maX=[740,763,787];
  const fills=['gInRed','gInOrange','gInGreen'],nm=['nife','ni','ruo2'];
  const barW=18.5;
  const drawBar=(xx,v,low,high,brk,base,hiBase,n)=>{
    if(v>brk){
      add(g,'rect',{x:xx,y:low(brk),width:barW,height:inB-low(brk),fill:'url(#gInRed)'},n+'-lower');
      const bb=high(hiBase);
      add(g,'rect',{x:xx,y:high(v),width:barW,height:bb-high(v),fill:'url(#gInRed)'},n+'-upper');
    }else{
      add(g,'rect',{x:xx,y:low(v),width:barW,height:inB-low(v),fill:'url(#'+base+')'},n);
    }
  };
  insetTof.forEach((v,i)=>{
    drawBar(tofX[i],v,tofLow,tofHigh,0.015,fills[i],0.4,'inset-tof-bar-'+nm[i]);
    const top=v>0.015?tofHigh(v):tofLow(v);
    add(g,'text',{x:tofX[i]+10,y:top-5,'text-anchor':'middle','font-size':11.5},'inset-tof-value',insetTofLabels[i]);
  });
  insetMa.forEach((v,i)=>{
    drawBar(maX[i],v,maLow,maHigh,20,fills[i],500,'inset-ma-bar-'+nm[i]);
    const top=v>20?maHigh(v):maLow(v);
    const el=add(g,'text',{x:maX[i]+(i==0?8:(i==1?15:14)),y:top-5,'text-anchor':'middle','font-size':11.5},'inset-ma-value',insetMaLabels[i]);
    el.style.fill=RED;
  });
})();

// ---------- panel f ----------
(function(){
  const g=$('pf');
  const l=79,r=531;
  const xH=linear(0,40,l,r),xS=linear(0,11000,l,r);
  const yTop=linear(0,2.5,734,605),yBot=linear(0,1.5,734,827.7);
  add(g,'rect',{x:l,y:605,width:r-l,height:129,fill:'url(#gFTop)'},'upper-plot-background');
  add(g,'rect',{x:l,y:734,width:r-l,height:129,fill:'url(#gFBot)'},'lower-plot-background');
  // stepped series
  fStepStarts.forEach((s,i)=>{
    const e=i+1<fStepStarts.length?fStepStarts[i+1]:40;
    const lv=fStepLevels[i];
    for(let px=xH(s);px<xH(e)-1;px+=6.2){
      const op=(Math.floor((px-l)/6.2)%7<3)?0.4:0.85;
      add(g,'rect',{x:px.toFixed(1),y:yTop(lv)-3.2,width:5.6,height:6.4,fill:'none',stroke:'#e03010','stroke-width':0.8,opacity:op},'step-point-nife');
    }
  });
  rings(g,fTimes,fRu,xH,yBot,'#444',3.4,0.7,'none','stability-point-ruo2');
  rings(g,fTimes,fNiFe,xH,yBot,'#e8405a',3.4,0.7,'none','stability-point-nife');
  // frame
  seg(g,l,604.5,r,604.5,'#111',2,'panel-f-top-axis');
  seg(g,l,734,r,734,'#111',2,'panel-f-mid-axis');
  seg(g,l,863.5,r,863.5,'#111',2,'panel-f-bottom-axis');
  seg(g,l,604,l,864,'#111',2,'panel-f-left-axis');
  seg(g,r,604,r,864,'#111',1.6,'panel-f-right-axis');
  xTicks(g,xS,fTopTicks,fTopMinor,604,-1,590,f0,15,'panel-f-top');
  xTicks(g,xH,fBottomTicks,fBottomMinor,864,1,890,f0,18,'panel-f-bottom');
  yTicks(g,yTop,[0,2.5],[],79,-1,68,f1,14,'panel-f-upper-y');
  yTicks(g,yBot,[1.5],[],79,-1,68,f1,18,'panel-f-lower-y');
  // labels
  const label=(x,y,fs,color,parts,nm)=>{
    const t=add(g,'text',{x:x,y:y,'font-size':fs},nm);
    t.style.fill=color;
    parts.forEach(p=>{
      const ts=document.createElementNS(NS,'tspan');
      if(p[1]){ts.setAttribute('dy',p[1]);}
      if(p[2]){ts.setAttribute('font-size',p[2]);}
      ts.textContent=p[0];t.appendChild(ts);
    });
  };
  label(91,629,14.5,RED,[['NiFe-MOF']],'upper-nife-label');
  label(161,721,14.5,'#111',[['10 mA cm'],['-2',-5,8.5]],'step-10-ma-label');
  label(295,722,14.5,'#111',[['250 mA cm'],['-2',-5,8.5]],'step-250-ma-label');
  label(439,721,14.5,'#111',[['500 mA cm'],['-2',-5,8.5]],'step-500-ma-label');
  label(91,762,15,'#111',[['10 mA cm'],['-2',-5,9]],'lower-10-ma-label');
  label(444,800,14.5,GRN,[['RuO'],['2',3,8.5]],'lower-ruo2-label');
  label(426,852,14.5,RED,[['NiFe-MOF']],'lower-nife-label');
  // arrows
  const arrow=(x1,y1,x2,y2,dash,nm)=>{
    const a={x1:x1,y1:y1,x2:x2,y2:y2,stroke:'#0c1c90','stroke-width':2,'marker-end':'url(#mNavy)'};
    if(dash)a['stroke-dasharray']=dash;
    add(g,'line',a,nm);
  };
  arrow(103,706.7,158,716.7,'8 4 2 4','arrow-to-10-ma');
  arrow(239,718,284,718,null,'arrow-10-to-250');
  arrow(386,719,430,719,null,'arrow-250-to-500');
  arrow(306.5,670,339,710,'2 2','arrow-to-250-ma');
  arrow(505,647,481,706,'2 2','arrow-to-500-ma');
})();

// ---------- panel g ----------
(function(){
  const g=$('pg');
  const y=linear(0,800,864,606.7);
  const pitch=24.4,bw=17.7;
  const drawGroup=(labels,values,x0,fill,nm)=>{
    values.forEach((v,i)=>{
      const xx=x0+i*pitch;
      add(g,'rect',{x:xx,y:y(v),width:bw,height:864-y(v),fill:'url(#'+fill+')'},'bar-'+nm+'-'+i);
      const t=add(g,'text',{transform:'translate('+(xx+bw/2+5)+','+(y(v)-4)+') rotate(-90)','font-size':13.8},'bar-label-'+nm+'-'+i);
      if(i===0)t.style.fill=RED;
      const parts=labels[i].split(/([_^]\{[^}]*\})/);
      let last=0;
      parts.forEach(p=>{
        if(!p)return;
        const ts=document.createElementNS(NS,'tspan');
        if(p[0]==='_'||p[0]==='^'){
          const d=p[0]==='_'?3:-4.5;
          ts.setAttribute('dy',d-last);
          ts.setAttribute('font-size',8.5);
          ts.textContent=p.slice(2,-1);
          last=d;
        }else{
          if(last)ts.setAttribute('dy',-last);
          ts.textContent=p;
          last=0;
        }
        t.appendChild(ts);
      });
    });
  };
  drawGroup(gLabelsA,gValuesA,624.5,'gPeach','left');
  drawGroup(gLabelsB,gValuesB,917,'gPink','right');
  frame(g,608.6,606.7,1072.5,864,'panel-g');
  add(g,'line',{x1:900,y1:606.7,x2:900,y2:864,stroke:'#111','stroke-width':1.4,'stroke-dasharray':'9 3 2 3'},'group-divider');
  yTicks(g,y,gYTicks,[],608,-1,600,f0,21,'panel-g-y',null,6);
})();
</script>
</body>
</html>
